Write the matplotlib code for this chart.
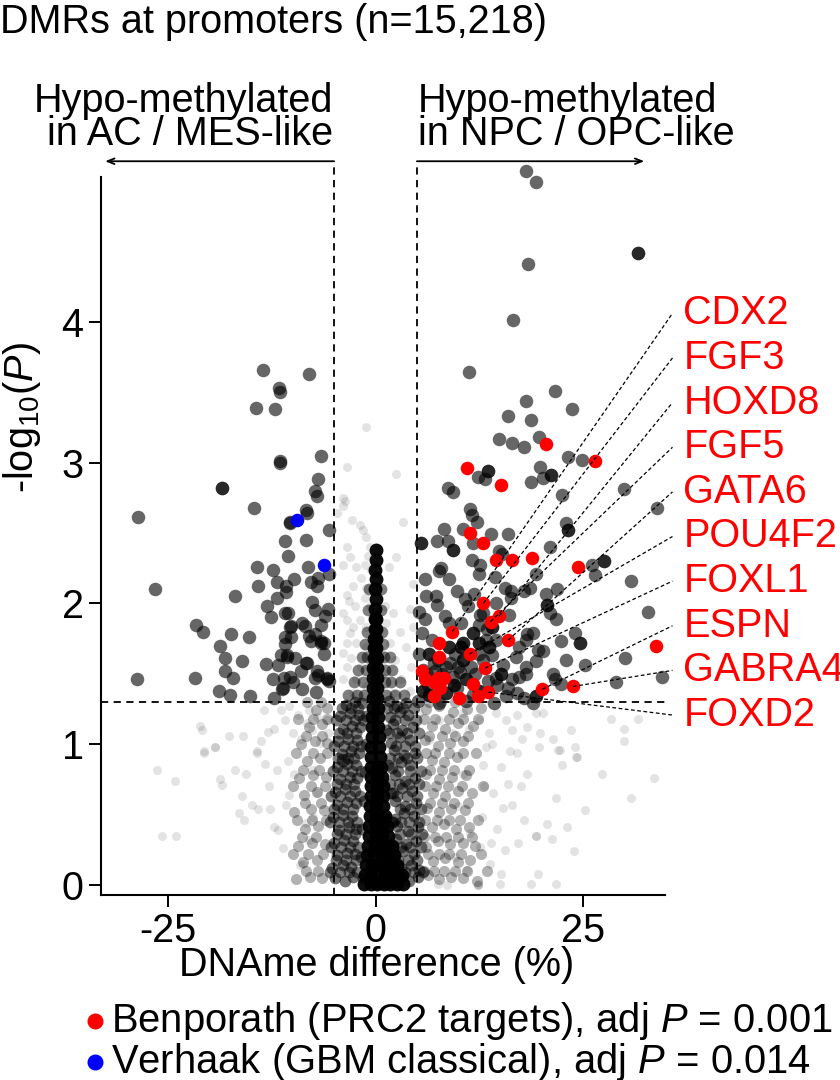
import matplotlib
matplotlib.use("Agg")
import matplotlib.pyplot as plt
from matplotlib.lines import Line2D

plt.rcParams["font.family"] = ["Liberation Sans", "DejaVu Sans"]
plt.rcParams["mathtext.fontset"] = "custom"
plt.rcParams["mathtext.rm"] = "Liberation Sans"
plt.rcParams["mathtext.it"] = "Liberation Sans:italic"
plt.rcParams["axes.unicode_minus"] = False

# significant DMRs (|diff| >= 5 %, P < 0.05)
sig_pts = [
    (-13.6, 3.66), (-8.07, 3.63), (-11.65, 3.53), (-11.57, 3.50), (-14.4, 3.39), (-12.1, 3.38),
    (-11.5, 3.00), (-11.5, 3.01), (-6.6, 3.05), (-18.55, 2.82), (-18.55, 2.82), (-6.95, 2.88),
    (-7.35, 2.80), (-7.07, 2.76), (-14.7, 2.68), (-8.35, 2.66), (-28.6, 2.61), (-8.27, 2.64),
    (-10.36, 2.57), (-10.3, 2.58), (-5.58, 2.52), (-10.88, 2.44), (-8.39, 2.45), (-10.52, 2.34),
    (-14.34, 2.26), (-12.33, 2.24), (-8.11, 2.26), (-5.62, 2.21), (-6.95, 2.18), (-9.84, 2.17),
    (-11.85, 2.15), (-7.83, 2.15), (-7.03, 2.12), (-26.6, 2.10), (-14.2, 2.12), (-10.76, 2.12),
    (-10.84, 2.08), (-16.95, 2.05), (-11.85, 2.04), (-7.63, 2.01), (-13.13, 1.98), (-7.35, 1.95),
    (-5.7, 1.96), (-10.92, 1.93), (-10.52, 1.93), (-12.65, 1.90), (-6.14, 1.91), (-6.59, 1.85),
    (-8.88, 1.86), (-10.28, 1.83), (-10.2, 1.84), (-8.51, 1.84), (-21.7, 1.85), (-20.8, 1.80),
    (-17.4, 1.78), (-15.3, 1.76), (-10.24, 1.76), (-10.92, 1.76), (-8.03, 1.77), (-7.31, 1.78),
    (-6.55, 1.72), (-6.6, 1.73), (-6.22, 1.72), (-7.79, 1.73), (-18.8, 1.70), (-10.92, 1.71),
    (-11.36, 1.63), (-10.68, 1.62), (-10.7, 1.63), (-9.76, 1.61), (-6.22, 1.64), (-18.2, 1.61),
    (-16.1, 1.59), (-13.25, 1.57), (-11.73, 1.56), (-8.35, 1.58), (-8.3, 1.58), (-8.96, 1.52),
    (-7.11, 1.52), (-6.95, 1.49), (-18.2, 1.52), (-28.8, 1.46), (-21.8, 1.47), (-17.2, 1.47),
    (-12.33, 1.46), (-11.0, 1.47), (-10.28, 1.48), (-9.96, 1.44), (-7.27, 1.47), (-5.9, 1.46),
    (-5.85, 1.47), (-5.62, 1.45), (-11.28, 1.39), (-11.2, 1.40), (-8.88, 1.39), (-7.23, 1.37),
    (-18.9, 1.38), (-17.6, 1.35), (-15.1, 1.34), (-12.3, 1.33), (-3.9, 0.89),
    (18.15, 5.07), (19.3, 4.99), (31.7, 4.49), (31.7, 4.49), (18.35, 4.41), (16.55, 4.01),
    (11.29, 3.64), (21.6, 3.51), (18.1, 3.44), (23.7, 3.38), (16.0, 3.33), (18.8, 3.30),
    (14.94, 3.17), (16.4, 3.14), (17.95, 3.11), (19.7, 3.18), (23.2, 3.04), (24.9, 3.02),
    (13.6, 2.94), (13.6, 2.94), (12.4, 2.90), (13.2, 2.88), (19.8, 2.97), (21.1, 2.91),
    (21.1, 2.91), (20.2, 2.89), (18.8, 2.86), (8.76, 2.82), (9.36, 2.79), (22.5, 2.77),
    (29.9, 2.81), (11.4, 2.67), (33.9, 2.68), (11.65, 2.63), (12.2, 2.58), (23.0, 2.57),
    (23.2, 2.52), (23.2, 2.52), (8.31, 2.53), (10.6, 2.53), (13.86, 2.49), (15.99, 2.49),
    (5.5, 2.43), (5.5, 2.43), (7.39, 2.44), (8.72, 2.44), (9.28, 2.38), (9.28, 2.38),
    (11.8, 2.43), (21.0, 2.40), (14.86, 2.37), (15.3, 2.35), (11.65, 2.31), (7.9, 2.25),
    (7.67, 2.23), (12.65, 2.27), (12.5, 2.21), (26.1, 2.27), (27.6, 2.30), (27.6, 2.30),
    (26.4, 2.20), (19.3, 2.21), (14.4, 2.19), (30.8, 2.16), (5.94, 2.17), (8.9, 2.17),
    (9.88, 2.09), (18.6, 2.11), (17.95, 2.09), (21.9, 2.10), (15.6, 2.11), (16.3, 2.09),
    (11.85, 2.07), (20.5, 2.07), (6.1, 2.05), (7.3, 2.05), (10.84, 2.03), (7.47, 1.99),
    (11.2, 1.98), (14.5, 2.00), (16.35, 2.04), (20.7, 1.99), (20.7, 1.99), (21.0, 1.93),
    (21.8, 1.89), (32.8, 1.94), (5.2, 1.94), (6.0, 1.89), (8.35, 1.91), (12.6, 1.92),
    (13.0, 1.93), (16.06, 1.92), (8.88, 1.86), (10.3, 1.86), (12.53, 1.85), (13.4, 1.82),
    (5.6, 1.79), (6.8, 1.74), (10.5, 1.72), (10.5, 1.72), (18.2, 1.78), (18.95, 1.79),
    (24.0, 1.79), (24.6, 1.72), (24.6, 1.72), (22.4, 1.73), (13.3, 1.74), (14.5, 1.74),
    (17.3, 1.69), (19.6, 1.67), (20.2, 1.66), (16.9, 1.62), (30.1, 1.61), (23.0, 1.60),
    (25.2, 1.56), (9.64, 1.64), (10.36, 1.69), (10.36, 1.69), (12.5, 1.64), (14.1, 1.63),
    (15.4, 1.56), (19.4, 1.59), (18.15, 1.55), (5.7, 1.53), (8.5, 1.55), (10.24, 1.51),
    (9.3, 1.48), (21.4, 1.50), (21.6, 1.46), (22.4, 1.43), (29.0, 1.44), (34.5, 1.48),
    (10.9, 1.46), (10.9, 1.46), (14.5, 1.47), (16.5, 1.46), (17.3, 1.48), (5.1, 1.31),
    (7.7, 1.29), (6.5, 1.35), (6.5, 1.35), (8.5, 1.36), (8.5, 1.36), (10.9, 1.31),
    (14.3, 1.29), (15.75, 1.34), (18.95, 1.29), (17.95, 1.33), (19.4, 1.34), (19.4, 1.34),
    (17.1, 1.36), (5.7, 1.38), (5.7, 1.38), (9.4, 1.42), (9.4, 1.42), (12.5, 1.38),
    (12.5, 1.38), (14.7, 1.42), (18.15, 1.50), (15.1, 1.50), (15.1, 1.50), (10.5, 1.60),
    (10.5, 1.60), (13.7, 1.69), (13.7, 1.69), (12.5, 1.72), (12.5, 1.72), (6.5, 1.64),
    (6.5, 1.64), (8.9, 1.69), (8.9, 1.69), (5.3, 1.64), (14.1, 1.83), (14.1, 1.83),
    (11.7, 1.79), (11.7, 1.79), (18.15, 1.74), (7.0, 1.58), (9.0, 1.58), (11.5, 1.55),
    (13.0, 1.60), (6.2, 1.50), (7.5, 1.60), (8.0, 1.50), (9.8, 1.40), (11.8, 1.35),
    (7.2, 1.52), (12.0, 1.50), (13.5, 1.45), (16.0, 1.40), (6.3, 1.42), (10.0, 1.55),
]

# Benporath PRC2 targets (red)
prc2_pts = [
    (20.5, 3.13), (26.4, 3.01), (11.0, 2.96), (15.1, 2.84), (11.33, 2.50), (12.97, 2.43),
    (14.5, 2.31), (16.5, 2.31), (18.9, 2.32), (24.4, 2.26), (13.0, 2.00), (14.9, 1.91),
    (13.86, 1.87), (9.24, 1.80), (16.0, 1.74), (33.8, 1.70), (7.63, 1.72), (11.33, 1.64),
    (7.7, 1.62), (13.2, 1.54), (5.6, 1.52), (23.8, 1.41), (20.1, 1.39), (6.0, 1.46),
    (7.5, 1.47), (8.3, 1.47), (7.8, 1.40), (7.1, 1.44), (11.7, 1.43), (13.6, 1.37),
    (12.4, 1.34), (10.1, 1.33), (7.0, 1.34),
]

# Verhaak GBM classical (blue)
gbm_pts = [(-9.52, 2.59), (-6.18, 2.27)]

# non-significant DMRs, grouped by how crowded the cloud is
bg_core = [
    (0.0, 2.38), (0.0, 2.31), (-0.1, 2.24), (0.0, 2.17), (-0.1, 2.10), (0.0, 2.03), (-0.1, 1.96),
    (-0.1, 1.89), (0.1, 1.89), (-0.1, 1.82), (0.1, 1.82), (-0.2, 1.75), (0.1, 1.75),
    (-0.2, 1.68), (0.1, 1.68), (-0.2, 1.61), (0.2, 1.61), (-0.3, 1.54), (0.2, 1.54),
    (-0.3, 1.47), (0.2, 1.47), (-0.3, 1.40), (0.2, 1.40), (-0.3, 1.33), (0.2, 1.33),
    (-0.3, 1.26), (0.3, 1.26), (-0.4, 1.19), (0.3, 1.19), (-0.4, 1.12), (0.3, 1.12),
    (-0.4, 1.05), (0.4, 1.05), (-0.5, 0.98), (0.4, 0.98), (-0.5, 0.91), (0.5, 0.91),
    (-0.5, 0.84), (0.2, 0.84), (0.7, 0.84), (-0.5, 0.77), (0.2, 0.77), (0.8, 0.77),
    (-0.6, 0.70), (0.2, 0.70), (0.9, 0.70), (-0.6, 0.63), (0.2, 0.63), (0.9, 0.63),
    (-0.7, 0.56), (0.1, 0.56), (0.9, 0.56), (-0.7, 0.49), (0.1, 0.49), (0.9, 0.49), (1.2, 0.49),
    (-0.8, 0.42), (0.0, 0.42), (0.8, 0.42), (1.4, 0.42), (-0.8, 0.35), (0.0, 0.35), (0.8, 0.35),
    (1.5, 0.35), (-0.9, 0.28), (-0.1, 0.28), (0.7, 0.28), (1.5, 0.28), (2.0, 0.28),
    (-1.0, 0.21), (-0.2, 0.21), (0.6, 0.21), (1.4, 0.21), (2.2, 0.21), (-1.2, 0.14), (-0.4, 0.14),
    (0.4, 0.14), (1.2, 0.14), (2.0, 0.14), (2.6, 0.14), (-1.3, 0.07), (-0.5, 0.07), (0.3, 0.07),
    (1.1, 0.07), (1.9, 0.07), (2.7, 0.07), (3.2, 0.07), (-1.4, 0.01), (-0.6, 0.01), (0.2, 0.01),
    (1.0, 0.01), (1.8, 0.01), (2.6, 0.01), (3.3, 0.01),
]

bg_inner = [
    (-4.9, 0.05), (-3.7, 0.03), (-2.7, 0.06), (1.8, 0.04), (2.9, 0.05), (4.0, 0.03), (5.1, 0.06),
    (-5.2, 0.12), (-3.9, 0.14), (-2.9, 0.13), (1.9, 0.15), (3.1, 0.12), (4.3, 0.14), (5.3, 0.11),
    (-4.6, 0.21), (-3.4, 0.23), (-2.5, 0.22), (2.2, 0.20), (3.3, 0.24), (4.6, 0.22),
    (-5.0, 0.30), (-3.8, 0.32), (-2.7, 0.31), (2.5, 0.33), (3.7, 0.29), (4.9, 0.31),
    (-4.4, 0.39), (-3.2, 0.41), (-2.4, 0.40), (2.6, 0.42), (3.9, 0.38), (5.1, 0.41),
    (-5.1, 0.48), (-3.9, 0.50), (-2.8, 0.49), (2.3, 0.47), (3.4, 0.51), (4.6, 0.49),
    (-4.6, 0.57), (-3.4, 0.59), (-2.4, 0.58), (2.4, 0.60), (3.6, 0.56), (4.9, 0.58),
    (-4.9, 0.66), (-3.7, 0.68), (-2.5, 0.67), (2.1, 0.65), (3.2, 0.69), (4.4, 0.67),
    (-4.3, 0.75), (-3.1, 0.77), (-2.2, 0.76), (2.3, 0.78), (3.5, 0.74), (4.8, 0.76),
    (-4.7, 0.84), (-3.5, 0.86), (-2.3, 0.85), (2.0, 0.83), (3.1, 0.87), (4.2, 0.85),
    (-4.1, 0.93), (-3.0, 0.95), (-2.0, 0.94), (2.2, 0.96), (3.4, 0.92), (4.7, 0.94),
    (-4.5, 1.02), (-3.3, 1.04), (-2.2, 1.03), (1.9, 1.01), (3.0, 1.05), (4.1, 1.03),
    (-3.9, 1.11), (-2.8, 1.13), (-1.9, 1.12), (2.1, 1.14), (3.2, 1.10), (4.5, 1.12),
    (-4.3, 1.20), (-3.1, 1.22), (-2.0, 1.21), (1.8, 1.19), (2.9, 1.23), (3.9, 1.21),
    (-3.6, 1.28), (-2.5, 1.30), (-1.6, 1.29), (1.6, 1.31), (2.6, 1.27), (3.7, 1.29),
    (-1.5, 0.05), (-1.7, 0.20), (-1.6, 0.40), (-1.4, 0.60), (-1.3, 0.80), (-1.2, 1.00),
    (1.6, 0.20), (2.1, 0.45), (1.9, 0.65), (1.5, 0.85), (1.3, 1.10), (-1.1, 1.20),
]

bg_inner2 = [
    (-5.5, 0.09), (-4.3, 0.09), (-3.2, 0.09), (-2.2, 0.09), (2.4, 0.09), (3.5, 0.09), (4.6, 0.09),
    (5.7, 0.09), (-4.8, 0.18), (-3.6, 0.18), (-2.4, 0.18), (2.7, 0.18), (3.9, 0.18), (5.0, 0.18),
    (-5.4, 0.27), (-4.2, 0.27), (-3.1, 0.27), (-2.1, 0.27), (2.1, 0.27), (3.1, 0.27), (4.2, 0.27),
    (5.5, 0.27), (-4.7, 0.36), (-3.6, 0.36), (-2.5, 0.36), (3.0, 0.36), (4.3, 0.36), (5.6, 0.36),
    (-5.5, 0.45), (-4.4, 0.45), (-3.3, 0.45), (-2.2, 0.45), (2.0, 0.45), (3.1, 0.45), (4.0, 0.45),
    (5.3, 0.45), (-5.0, 0.54), (-3.9, 0.54), (-2.7, 0.54), (2.9, 0.54), (4.2, 0.54), (5.5, 0.54),
    (-5.4, 0.63), (-4.3, 0.63), (-3.1, 0.63), (-1.9, 0.63), (2.6, 0.63), (3.8, 0.63), (5.0, 0.63),
    (-4.7, 0.72), (-3.6, 0.72), (-2.6, 0.72), (1.8, 0.72), (2.8, 0.72), (4.0, 0.72), (5.3, 0.72),
    (-5.1, 0.81), (-3.9, 0.81), (-2.8, 0.81), (-1.8, 0.81), (2.7, 0.81), (4.1, 0.81), (5.5, 0.81),
    (-4.5, 0.90), (-3.3, 0.90), (-2.6, 0.90), (1.7, 0.90), (2.7, 0.90), (3.8, 0.90), (5.0, 0.90),
    (-5.0, 0.99), (-3.8, 0.99), (-2.7, 0.99), (-1.7, 0.99), (2.5, 0.99), (3.6, 0.99), (4.8, 0.99),
    (-4.4, 1.08), (-3.4, 1.08), (-2.4, 1.08), (1.6, 1.08), (2.6, 1.08), (3.8, 1.08), (5.2, 1.08),
    (-4.8, 1.17), (-3.6, 1.17), (-2.5, 1.17), (-1.5, 1.17), (2.4, 1.17), (3.5, 1.17), (4.9, 1.17),
    (-4.1, 1.26), (-3.0, 1.26), (-2.1, 1.26), (1.4, 1.26), (2.2, 1.26), (3.3, 1.26), (4.6, 1.26),
    (-3.3, 1.35), (-2.2, 1.35), (-1.4, 1.35), (1.3, 1.35), (2.3, 1.35), (3.4, 1.35),
    (-2.6, 1.44), (-1.5, 1.44), (1.2, 1.44), (1.9, 1.44), (2.9, 1.44), (-2.1, 1.53), (-1.2, 1.53),
    (1.1, 1.53), (2.0, 1.53), (-1.6, 1.62), (-1.0, 1.62), (1.0, 1.62), (1.7, 1.62),
    (-1.3, 1.71), (0.9, 1.71), (-1.0, 1.80), (0.8, 1.80), (-0.9, 1.95), (0.7, 1.95),
    (-0.8, 2.10), (0.6, 2.10),
]

bg_flank = [
    (-9.6, 0.04), (-7.9, 0.06), (-6.4, 0.05), (6.3, 0.07), (7.7, 0.04), (9.1, 0.06), (10.6, 0.05),
    (12.2, 0.03), (-8.8, 0.16), (-7.1, 0.18), (6.9, 0.17), (8.4, 0.19), (9.9, 0.16), (11.4, 0.18),
    (-9.3, 0.28), (-7.6, 0.30), (-6.1, 0.29), (6.1, 0.27), (7.5, 0.31), (9.0, 0.29), (10.6, 0.30),
    (12.0, 0.28), (-8.5, 0.40), (-6.9, 0.42), (6.8, 0.41), (8.3, 0.43), (9.7, 0.40), (11.3, 0.41),
    (-9.8, 0.52), (-7.8, 0.54), (-6.2, 0.53), (6.2, 0.55), (7.6, 0.52), (9.1, 0.54), (10.8, 0.53),
    (-8.6, 0.64), (-7.0, 0.66), (6.9, 0.65), (8.4, 0.63), (9.9, 0.67), (11.6, 0.65),
    (-9.2, 0.76), (-7.5, 0.78), (-6.0, 0.77), (6.1, 0.79), (7.6, 0.75), (9.2, 0.77), (10.9, 0.78),
    (-8.3, 0.88), (-6.7, 0.90), (6.8, 0.89), (8.3, 0.87), (9.8, 0.91),
    (-9.0, 1.00), (-7.3, 1.02), (-5.9, 1.01), (6.0, 1.03), (7.5, 0.99), (9.0, 1.01), (10.6, 1.02),
    (-8.0, 1.12), (-6.4, 1.14), (6.8, 1.13), (8.4, 1.11), (10.0, 1.15), (11.7, 1.13),
    (-7.2, 1.24), (-5.8, 1.26), (6.1, 1.25), (7.7, 1.27), (9.3, 1.23), (11.0, 1.25), (12.7, 1.26),
    (-8.4, 0.10), (-6.9, 0.10), (5.8, 0.10), (7.0, 0.10), (8.3, 0.10), (9.6, 0.10), (11.0, 0.10),
    (13.4, 0.10), (-9.9, 0.22), (-8.2, 0.22), (-6.3, 0.22), (6.3, 0.22), (7.6, 0.22), (8.9, 0.22),
    (10.3, 0.22), (12.7, 0.22), (-8.9, 0.34), (-7.2, 0.34), (5.9, 0.34), (7.2, 0.34), (8.5, 0.34),
    (9.9, 0.34), (11.6, 0.34), (-9.5, 0.46), (-7.6, 0.46), (-6.0, 0.46), (6.0, 0.46), (7.4, 0.46),
    (8.8, 0.46), (10.2, 0.46), (12.4, 0.46), (-8.5, 0.58), (-6.6, 0.58), (6.6, 0.58), (8.0, 0.58),
    (9.5, 0.58), (11.2, 0.58), (-9.9, 0.70), (-7.8, 0.70), (-6.1, 0.70), (6.0, 0.70), (7.3, 0.70),
    (8.7, 0.70), (10.4, 0.70), (12.9, 0.70), (-8.7, 0.82), (-6.8, 0.82), (6.6, 0.82), (8.0, 0.82),
    (9.5, 0.82), (11.3, 0.82), (-9.6, 0.94), (-7.5, 0.94), (-5.8, 0.94), (6.1, 0.94), (7.2, 0.94),
    (8.8, 0.94), (10.5, 0.94), (12.1, 0.94), (-8.4, 1.06), (-6.5, 1.06), (6.5, 1.06), (8.0, 1.06),
    (9.6, 1.06), (11.2, 1.06), (-9.3, 1.18), (-7.5, 1.18), (-5.9, 1.18), (5.8, 1.18), (7.2, 1.18),
    (8.9, 1.18), (10.6, 1.18), (12.4, 1.18), (-8.3, 1.30), (-6.6, 1.30), (6.4, 1.30), (7.9, 1.30),
    (9.6, 1.30),
]

bg_sparse = [
    (-3.9, 2.75), (-3.9, 2.69), (-4.7, 2.64), (-2.8, 2.59), (-1.9, 2.56), (-1.5, 2.52), (-1.1, 2.47),
    (-0.7, 2.40), (-0.9, 2.34), (-0.3, 2.32), (-3.5, 2.40), (-3.1, 2.33), (-3.9, 2.27), (-2.3, 2.26),
    (-1.3, 2.27), (-0.5, 2.24), (-1.7, 2.18), (-1.1, 2.11), (-0.3, 2.11), (-2.7, 2.12), (-3.5, 2.06),
    (-3.2, 2.02), (-2.5, 1.98), (-1.3, 2.04), (-0.7, 1.98), (-0.3, 1.93), (-1.9, 1.88), (-1.1, 1.83),
    (-2.7, 1.83), (-3.9, 1.93), (-3.5, 1.88), (-3.1, 1.79), (-3.5, 1.72), (-2.3, 1.72), (-1.1, 1.69),
    (-0.3, 1.74), (-3.9, 1.65), (-2.9, 1.61), (-1.7, 1.55), (-0.7, 1.60), (-3.5, 1.55), (-3.9, 1.46),
    (-2.3, 1.46), (-1.1, 1.41), (-2.7, 1.36), (-0.3, 1.43),
    (3.3, 2.58), (2.5, 2.33), (1.6, 2.26), (4.5, 2.14), (1.1, 1.98), (2.1, 1.93), (4.1, 1.96),
    (1.3, 1.86), (2.9, 1.80), (4.5, 1.83), (1.7, 1.72), (3.7, 1.69), (2.3, 1.60), (4.3, 1.55),
    (1.3, 1.50), (3.1, 1.46), (2.1, 1.36), (4.1, 1.38), (0.9, 1.64), (2.5, 2.92), (-1.1, 3.25),
    (-3.4, 2.97), (-3.7, 2.73),
    (-21.2, 1.13), (-20.9, 1.10), (-20.7, 0.95), (-19.4, 0.98), (-17.7, 1.06), (-16.0, 1.06),
    (-14.3, 0.95), (-13.5, 1.24), (-13.0, 1.09), (-12.2, 1.11), (-11.4, 1.24), (-10.9, 1.17),
    (-10.4, 1.27), (-10.0, 1.08), (-9.4, 1.21), (-9.0, 1.04), (-8.3, 1.15), (-8.0, 1.24),
    (-7.6, 1.10), (-7.0, 1.19), (-6.7, 1.01), (-5.9, 1.17), (-5.7, 1.08),
    (-26.3, 0.82), (-24.2, 0.74), (-25.7, 0.35), (-24.1, 0.35), (-20.7, 0.94), (-19.4, 0.98),
    (-18.8, 0.75), (-18.5, 0.71), (-16.9, 0.82), (-15.6, 0.79), (-14.3, 0.94), (-13.3, 0.86),
    (-16.5, 0.51), (-15.9, 0.46), (-16.1, 0.63), (-14.9, 0.57), (-14.2, 0.54), (-12.7, 0.54),
    (-12.2, 0.41), (-11.7, 0.39), (-11.2, 0.26), (-10.8, 0.57), (-10.4, 0.64), (-11.9, 0.82),
    (-10.5, 0.88), (-9.8, 0.79), (-9.1, 0.14), (-8.7, 0.15), (-8.0, 0.32), (-7.5, 0.48),
    (-8.4, 0.44), (-7.7, 0.82), (-7.0, 0.65),
    (20.2, 1.22), (28.4, 1.18), (30.0, 1.11), (30.0, 1.02), (31.6, 1.18), (24.0, 0.98),
    (24.2, 0.91), (23.6, 1.10), (22.2, 0.96), (21.4, 1.04), (19.8, 1.08), (18.2, 1.12),
    (19.4, 1.22), (17.7, 1.04), (17.0, 1.21), (16.5, 1.10), (15.7, 1.17), (14.5, 1.22),
    (13.7, 1.08), (12.5, 1.17), (11.3, 1.11), (10.5, 1.22), (9.3, 1.08), (7.7, 1.17),
    (6.5, 1.03), (5.3, 1.22),
    (33.6, 0.76), (30.8, 0.62), (27.3, 0.79), (25.3, 0.53), (23.9, 0.24), (21.8, 0.01),
    (19.6, 0.08), (18.7, 0.01), (21.3, 0.33), (19.3, 0.35), (19.3, 0.35), (20.7, 0.43),
    (23.1, 0.41), (21.8, 0.62), (22.5, 0.85), (24.3, 0.91), (22.0, 0.96), (19.7, 0.98),
    (18.3, 0.79), (17.9, 0.46), (17.2, 0.30), (15.1, 0.08), (15.0, 0.01), (12.3, 0.0),
    (12.4, 0.0), (12.3, 0.01), (8.6, 0.0), (7.5, 0.01), (16.5, 0.57), (16.0, 0.72),
    (14.2, 0.65), (12.8, 0.48), (12.6, 0.27), (11.4, 0.37), (15.1, 0.84), (17.0, 0.94),
    (13.3, 0.98), (10.5, 0.79), (10.0, 0.56), (9.6, 0.20), (11.0, 0.11),
    (13.8, 0.15), (14.6, 0.40), (13.1, 0.70), (15.6, 0.25), (16.2, 0.95), (14.0, 1.00),
    (12.9, 0.85), (15.4, 0.55), (13.9, 0.30), (17.5, 0.70), (-12.8, 0.70), (-13.8, 1.02),
]

# labelled PRC2 targets: gene -> point it points at
genes = ["CDX2", "FGF3", "HOXD8", "FGF5", "GATA6", "POU4F2", "FOXL1", "ESPN", "GABRA4", "FOXD2"]
gene_pts = [(9.24, 1.80), (13.0, 2.00), (14.9, 1.91), (13.86, 1.87), (16.0, 1.74),
            (11.33, 1.64), (13.2, 1.54), (20.1, 1.39), (23.8, 1.41), (13.6, 1.37)]

legend_labels = ["Benporath (PRC2 targets), adj $\\it{P}$ = 0.001",
                 "Verhaak (GBM classical), adj $\\it{P}$ = 0.014"]
legend_colors = ["#ff0000", "#0000ff"]

FS = 28.5

fig = plt.figure(figsize=(8.4, 10.8), dpi=100)
ax = fig.add_axes([0.1202, 0.1713, 0.6715, 0.6648])
ax.set_xlim(-33.1, 34.9)
ax.set_ylim(-0.071, 5.028)


def xy(pts):
    return [p[0] for p in pts], [p[1] for p in pts]


for pts, a, s in [(bg_sparse, 0.11, 42), (bg_flank, 0.3, 64), (bg_inner2, 0.5, 72),
                  (bg_inner, 0.55, 72), (bg_core, 0.95, 100)]:
    x, y = xy(pts)
    ax.scatter(x, y, s=s, c="black", alpha=a, linewidths=0, zorder=2)

x, y = xy(sig_pts)
ax.scatter(x, y, s=95, c="black", alpha=0.6, linewidths=0, zorder=3, clip_on=False)
x, y = xy(prc2_pts)
ax.scatter(x, y, s=95, c="#ff0000", linewidths=0, zorder=4)
x, y = xy(gbm_pts)
ax.scatter(x, y, s=95, c="#0000ff", linewidths=0, zorder=4)

# thresholds
dash = dict(color="black", lw=1.3, ls=(0, (4, 3)), zorder=1, clip_on=False)
ax.plot([-5, -5], [-0.071, 5.14], **dash)
ax.plot([5, 5], [-0.071, 5.14], **dash)
ax.plot([-33.1, 34.9], [1.30, 1.30], **dash)

# direction arrows
arrow = dict(arrowstyle="->,head_length=0.5,head_width=0.2", lw=1.3, color="black",
             shrinkA=0, shrinkB=0)
ax.annotate("", xy=(-32.6, 5.14), xytext=(-5, 5.14), annotation_clip=False, arrowprops=arrow)
ax.annotate("", xy=(32.4, 5.14), xytext=(5, 5.14), annotation_clip=False, arrowprops=arrow)
ax.text(-5.1, 5.57, "Hypo-methylated", ha="right", va="center", fontsize=FS)
ax.text(-5.1, 5.33, "in AC / MES-like", ha="right", va="center", fontsize=FS)
ax.text(5.1, 5.57, "Hypo-methylated", ha="left", va="center", fontsize=FS)
ax.text(5.1, 5.33, "in NPC / OPC-like", ha="left", va="center", fontsize=FS)

# gene labels
label_top, label_step = 4.06, 0.317
for i, (g, (gx, gy)) in enumerate(zip(genes, gene_pts)):
    ly = label_top - i * label_step
    ax.plot([gx, 35.8], [gy, ly], color="black", lw=0.9, ls=(0, (3, 2)), zorder=5,
            clip_on=False)
    ax.text(37.1, ly, g, color="#ff0000", fontsize=FS, ha="left", va="center")

for side in ["top", "right"]:
    ax.spines[side].set_visible(False)
for side in ["left", "bottom"]:
    ax.spines[side].set_linewidth(1.5)
ax.set_xticks([-25, 0, 25])
ax.set_yticks([0, 1, 2, 3, 4])
ax.tick_params(length=8.5, width=1.4, labelsize=FS, pad=4)

fig.text(0.0, 1 - 22 / 1080, "DMRs at promoters (n=15,218)", fontsize=FS, ha="left",
         va="center")
fig.text(377 / 840, 1 - 965 / 1080, "DNAme difference (%)", fontsize=FS, ha="center",
         va="center")
fig.text(22 / 840, 1 - 418 / 1080, "-log$_{10}$($\\it{P}$)", fontsize=FS, ha="center",
         va="center", rotation=90)

for i, (lab, col) in enumerate(zip(legend_labels, legend_colors)):
    yy = 1 - (1021 + 41 * i) / 1080
    fig.add_artist(Line2D([95 / 840], [yy], marker="o", ms=10.5, color=col, lw=0,
                          transform=fig.transFigure))
    fig.text(111 / 840, yy, lab, fontsize=FS + 0.3, ha="left", va="center")

fig.savefig("out.png", dpi=100)
